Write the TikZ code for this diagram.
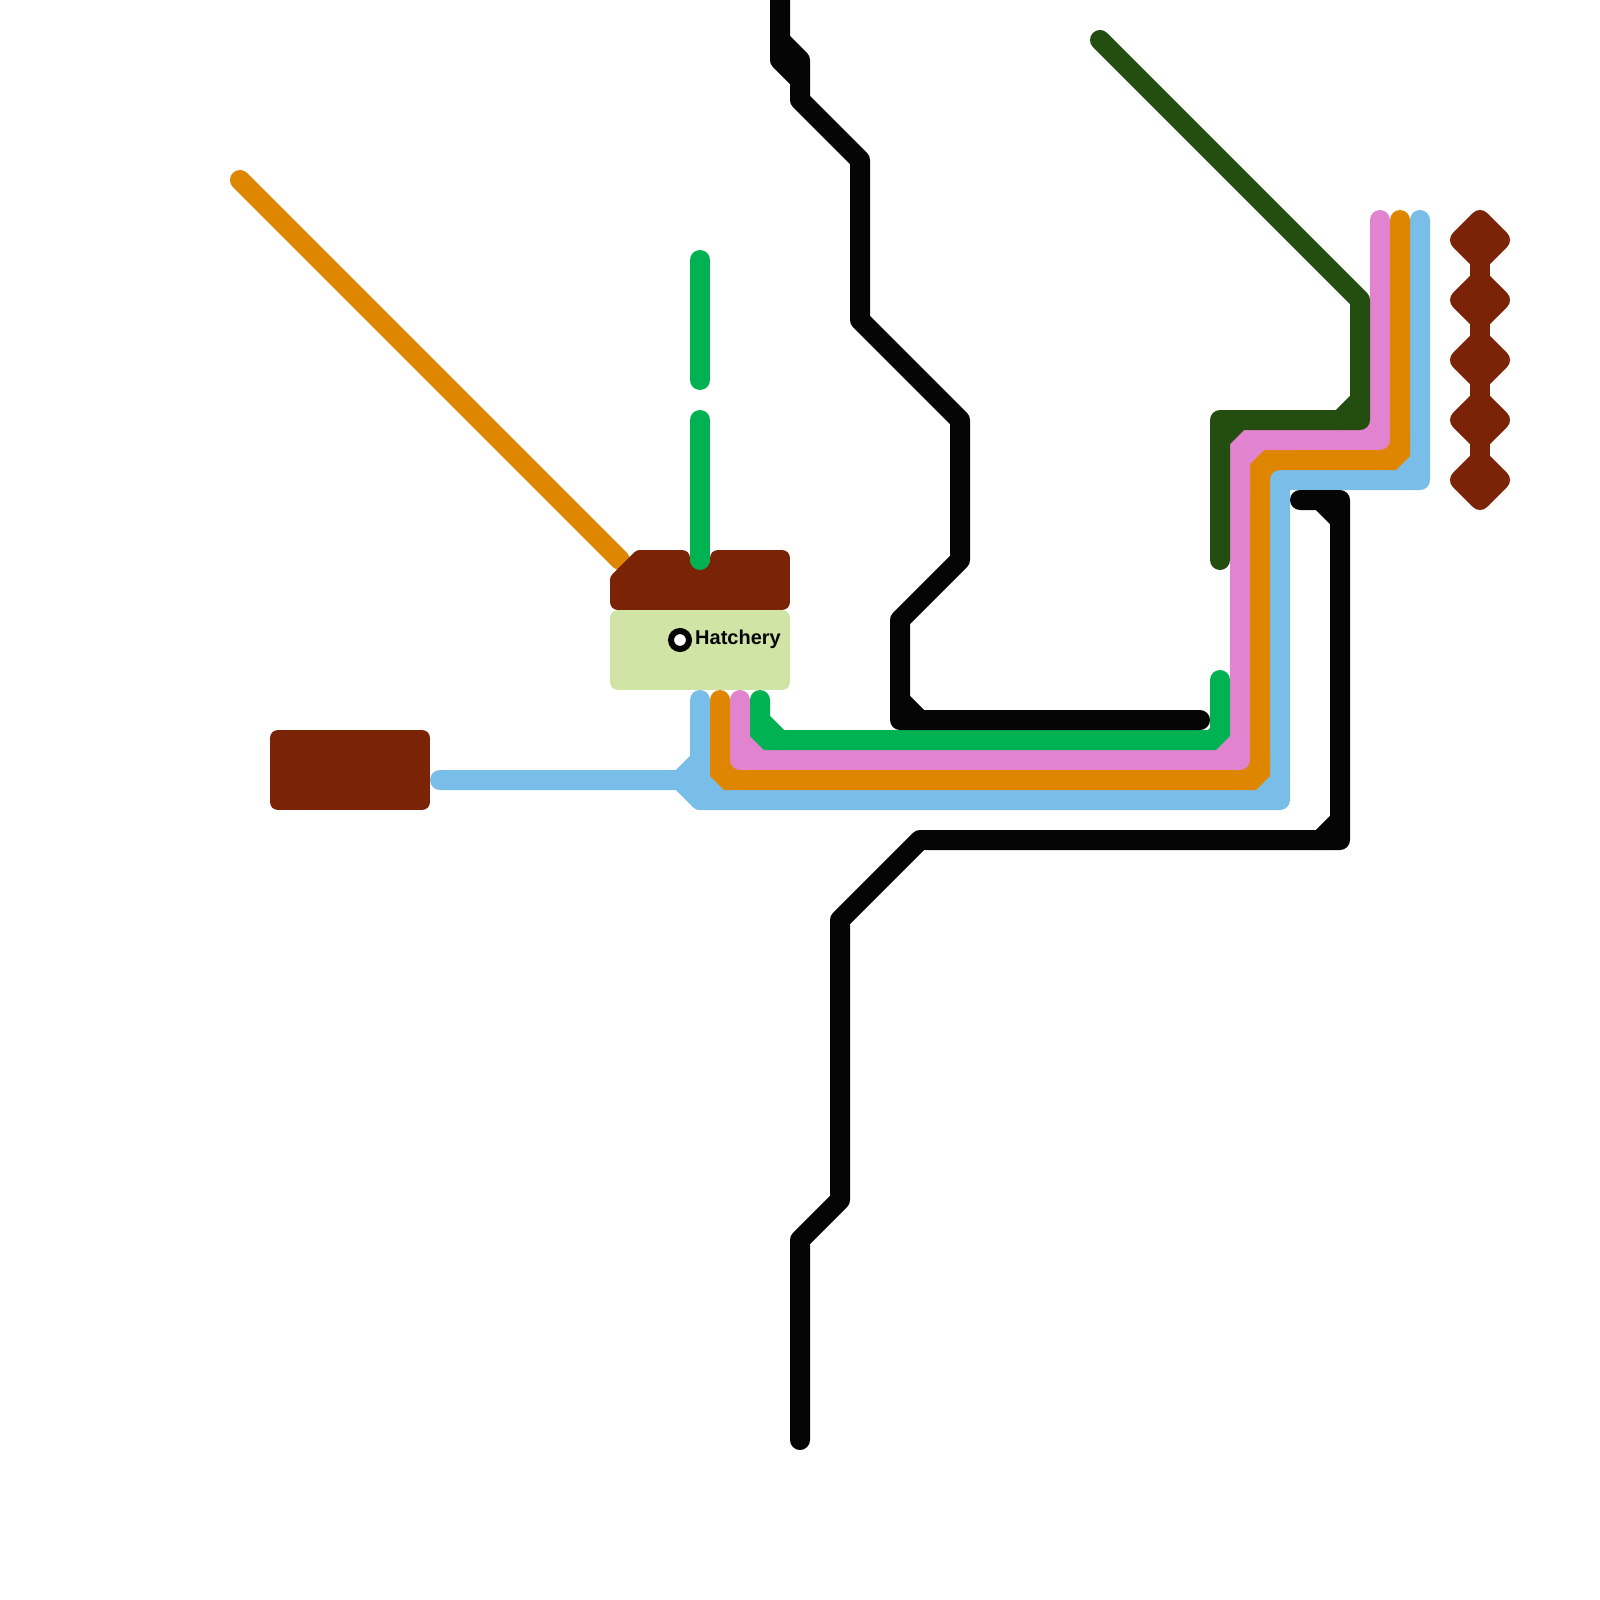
\documentclass[tikz,border=0pt]{standalone}
\usepackage{fontspec}
\setmainfont{Liberation Sans}
\definecolor{cBrown}{HTML}{7B2306}
\definecolor{cPale}{HTML}{D0E4A6}
\definecolor{cBlue}{HTML}{79BDE9}
\definecolor{cOrange}{HTML}{DF8600}
\definecolor{cPink}{HTML}{E283CF}
\definecolor{cGreen}{HTML}{00B251}
\definecolor{cDark}{HTML}{234E0F}
\definecolor{cBlack}{HTML}{050505}
\tikzset{
  metro/.style={line width=20pt,line cap=round,line join=round},
  chamfered/.style={line width=20pt,line cap=round,line join=miter,miter limit=4},
  blob/.style={line width=16pt,line join=round,draw=#1,fill=#1},
}
\begin{document}
\begin{tikzpicture}[x=1pt,y=-1pt]
\useasboundingbox (0,0) rectangle (1600,1600);
% orange diagonal goes under the brown block
\draw[metro,cOrange] (240,180) -- (620,560);
% brown blocks
\draw[blob=cBrown] (618,602) -- (682,602) -- (682,558) -- (640,558) -- (618,580) -- cycle;
\draw[blob=cBrown] (718,602) -- (782,602) -- (782,558) -- (718,558) -- cycle;
\draw[blob=cBrown] (682,570) -- (718,570) -- (718,602) -- (682,602) -- cycle;
\draw[blob=cBrown] (278,738) -- (422,738) -- (422,802) -- (278,802) -- cycle;
\draw[blob=cPale] (618,618) -- (782,618) -- (782,682) -- (618,682) -- cycle;
% diamonds
\draw[metro,cBrown] (1480,240) -- (1480,480);
\foreach \yc in {240,300,360,420,480}
  \draw[line width=20pt,line join=round,draw=cBrown,fill=cBrown] (1480,\yc-20) -- (1500,\yc) -- (1480,\yc+20) -- (1460,\yc) -- cycle;
% orange corner filler under the blue
\draw[metro,cOrange] (1260,480) -- (1280,460);
% blue
\draw[metro,cBlue] (440,780) -- (680,780) -- (700,760) -- (700,700);
\draw[metro,cBlue] (680,780) -- (700,800) -- (1280,800) -- (1280,480) -- (1420,480) -- (1420,220);
\draw[metro,cBlue] (700,760) -- (700,800);
\draw[metro,cBlue] (700,780) -- (720,800);
\draw[metro,cBlue] (1260,800) -- (1280,780);
\draw[metro,cBlue] (1400,480) -- (1420,460);
% orange
\draw[chamfered,cOrange] (720,700) -- (720,772) -- (728,780) -- (1252,780) -- (1260,772) -- (1260,467) -- (1267,460) -- (1392,460) -- (1400,452) -- (1400,220);
\draw[metro,cOrange] (720,760) -- (740,780);
\draw[metro,cOrange] (1240,780) -- (1260,760);
\draw[metro,cOrange] (1380,460) -- (1400,440);
% pink
\draw[metro,cPink] (740,700) -- (740,760) -- (1240,760) -- (1240,500);
\draw[chamfered,cPink] (1240,500) -- (1240,447) -- (1247,440) -- (1300,440);
\draw[metro,cPink] (1300,440) -- (1380,440) -- (1380,220);
\draw[metro,cPink] (740,730) -- (760,750);
\draw[metro,cPink] (1220,760) -- (1240,740);
\draw[metro,cPink] (1240,460) -- (1260,440);
\draw[metro,cPink] (1360,440) -- (1380,420);
% green
\draw[chamfered,cGreen] (760,700) -- (760,732) -- (768,740) -- (1212,740) -- (1220,732) -- (1220,680);
\draw[metro,cGreen] (760,720) -- (780,740);
\draw[metro,cGreen] (700,260) -- (700,380);
\draw[metro,cGreen] (700,420) -- (700,560);
% dark green
\draw[metro,cDark] (1100,40) -- (1360,300) -- (1360,420) -- (1220,420) -- (1220,560);
\draw[metro,cDark] (1360,400) -- (1340,420);
\draw[metro,cDark] (1220,440) -- (1240,420);
% black
\draw[metro,cBlack] (780,-20) -- (780,60) -- (800,80) -- (800,100) -- (860,160) -- (860,320) -- (960,420) -- (960,560) -- (900,620) -- (900,720) -- (1200,720);
\draw[metro,cBlack] (780,40) -- (800,60) -- (800,80);
\draw[metro,cBlack] (900,700) -- (920,720);
\draw[metro,cBlack] (1300,500) -- (1340,500) -- (1340,840) -- (920,840) -- (840,920) -- (840,1200) -- (800,1240) -- (800,1440);
\draw[metro,cBlack] (1320,500) -- (1340,520);
\draw[metro,cBlack] (1320,840) -- (1340,820);
% station
\node[circle,draw=cBlack,fill=white,line width=6pt,minimum size=18pt,inner sep=0pt] (hatcheryStop) at (680,640) {};
\node[anchor=base west,inner sep=0pt,text=cBlack,font=\fontsize{20pt}{20pt}\selectfont\bfseries] (hatcheryLabel) at (695,644.5) {Hatchery};
\end{tikzpicture}
\end{document}
